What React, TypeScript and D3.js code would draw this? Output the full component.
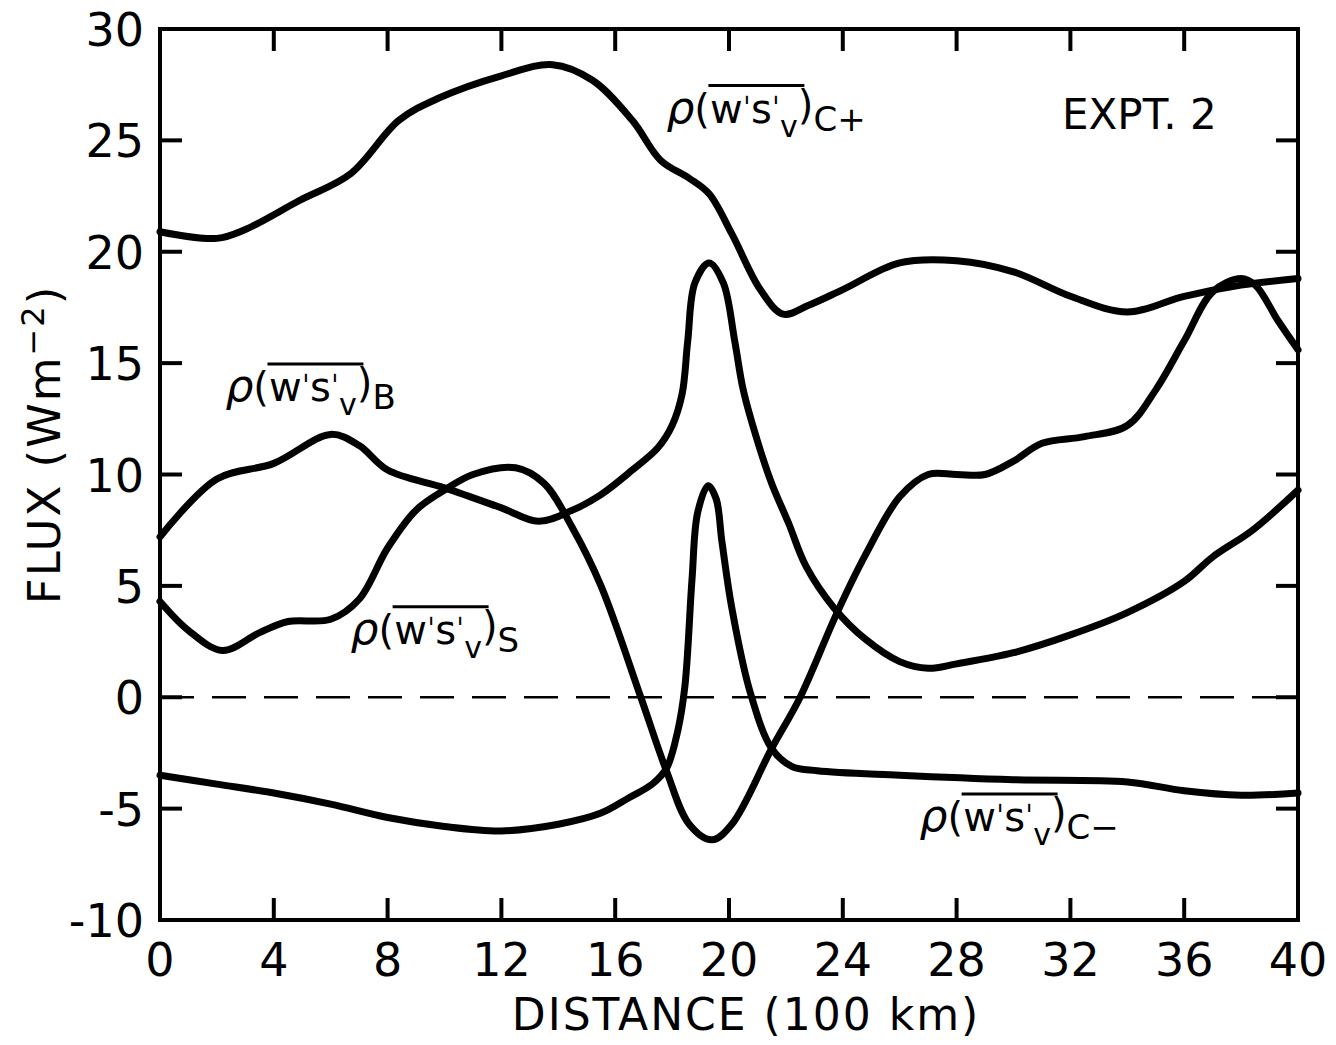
import React from 'react';
import * as d3 from 'd3';

// Distance (100 km) and flux (W m^-2)
const cPlusX = [0, 2, 3, 4.9, 6.7, 8.4, 9.8, 12, 13.8, 15.2, 16.6, 17.6, 18.6, 19.3, 20.1, 21.1, 21.9, 22.8, 24, 26, 28, 30, 32, 34, 36, 38, 40];
const cPlusY = [20.9, 20.6, 21.0, 22.3, 23.5, 25.9, 26.9, 27.9, 28.4, 27.7, 25.9, 24.1, 23.3, 22.6, 20.8, 18.3, 17.2, 17.6, 18.3, 19.5, 19.6, 19.1, 18.0, 17.3, 18.0, 18.5, 18.8];

const bX = [0, 2, 4, 6, 7, 8, 10, 12, 13.3, 14.5, 15.5, 16.6, 17.5, 18.0, 18.35, 18.55, 18.8, 19.3, 19.8, 20.2, 20.5, 21.0, 21.5, 22.1, 22.7, 23.7, 24.8, 26, 27, 28, 30, 32, 34, 36, 37, 38.4, 40];
const bY = [7.2, 9.8, 10.5, 11.8, 11.3, 10.2, 9.4, 8.5, 7.9, 8.4, 9.1, 10.2, 11.2, 12.2, 13.6, 16.0, 18.6, 19.5, 18.6, 16.0, 13.8, 11.5, 9.6, 7.8, 5.9, 4.0, 2.6, 1.6, 1.3, 1.5, 2.0, 2.8, 3.8, 5.2, 6.3, 7.5, 9.3];

const sX = [0, 1, 2.2, 3.5, 4.5, 6, 7, 8, 9, 10, 11, 12.5, 13.5, 14.5, 15.5, 16.9, 17.8, 18.6, 19.4, 20.1, 21.5, 22.5, 23.8, 24.8, 26, 27, 28, 29, 30, 31, 32.5, 34, 35, 36, 37, 38, 38.5, 39.3, 40];
const sY = [4.3, 3.0, 2.1, 2.9, 3.4, 3.5, 4.4, 6.7, 8.4, 9.3, 10.0, 10.3, 9.6, 7.6, 5.0, 0, -3.3, -5.7, -6.4, -5.7, -2.3, 0, 3.8, 6.4, 9.0, 10.0, 10.0, 10.0, 10.6, 11.4, 11.7, 12.2, 13.8, 16.0, 18.2, 18.8, 18.5, 16.9, 15.6];

const cMinusX = [0, 2, 4, 6, 8, 10, 12, 14, 15.5, 16.5, 17.3, 17.8, 18.2, 18.45, 18.7, 18.9, 19.27, 19.55, 19.75, 20.1, 20.75, 21.5, 22.2, 23.1, 26, 30, 34, 36, 38, 40];
const cMinusY = [-3.5, -3.9, -4.3, -4.8, -5.4, -5.8, -6.0, -5.7, -5.2, -4.5, -3.9, -3.2, -1.5, 0.5, 5.3, 8.3, 9.5, 8.9, 7.0, 4.0, 0.2, -2.3, -3.1, -3.3, -3.5, -3.7, -3.8, -4.2, -4.4, -4.3];

const xTicks = [0, 4, 8, 12, 16, 20, 24, 28, 32, 36, 40];
const yTicks = [-10, -5, 0, 5, 10, 15, 20, 25, 30];

const width = 1336;
const height = 1045;
const margin = { top: 29, right: 38, bottom: 125, left: 160 };
const font = '"DejaVu Sans", sans-serif';

const zip = (xs: number[], ys: number[]) => xs.map((x, i) => [x, ys[i]] as [number, number]);
const series = [zip(cPlusX, cPlusY), zip(bX, bY), zip(sX, sY), zip(cMinusX, cMinusY)];

const x = d3.scaleLinear().domain([0, 40]).range([margin.left, width - margin.right]);
const y = d3.scaleLinear().domain([-10, 30]).range([height - margin.bottom, margin.top]);

const line = d3.line<[number, number]>()
  .x(d => x(d[0]))
  .y(d => y(d[1]))
  .curve(d3.curveCatmullRom.alpha(0.5));

// rho(w's'_v) label with an overbar and a subscript
const FluxLabel = ({ px, py, sub }: { px: number; py: number; sub: string }) => (
  <g transform={`translate(${px},${py})`} fontFamily={font} fontSize={40}>
    <text x={0} y={0}>
      <tspan fontStyle="italic" fontSize={44}>ρ</tspan>
      <tspan>(w</tspan>
      <tspan dy={-4} fontSize={30}>ˈ</tspan>
      <tspan dy={4}>s</tspan>
      <tspan dy={-4} fontSize={30}>ˈ</tspan>
      <tspan dy={18} fontSize={30}>v</tspan>
      <tspan dy={-18}>)</tspan>
      <tspan dy={12} fontSize={34}>{sub}</tspan>
    </text>
    <line x1={42} x2={138} y1={-37} y2={-37} stroke="#000" strokeWidth={3} />
  </g>
);

export default function App() {
  const bottom = height - margin.bottom;
  const right = width - margin.right;
  return (
    <svg width={width} height={height} style={{ position: 'absolute', left: 0, top: 0, background: '#fff' }}>
      {/* zero line */}
      <line x1={x(0)} x2={x(40)} y1={y(0)} y2={y(0)} stroke="#000" strokeWidth={2.5} strokeDasharray="34 18" />

      {/* curves */}
      {series.map((s, i) => (
        <path key={i} d={line(s) || ''} fill="none" stroke="#000" strokeWidth={7} strokeLinejoin="round" strokeLinecap="round" />
      ))}

      {/* frame */}
      <rect x={margin.left} y={margin.top} width={right - margin.left} height={bottom - margin.top}
        fill="none" stroke="#000" strokeWidth={4} />

      {/* ticks on all four sides, pointing inward */}
      {xTicks.slice(1, -1).map(t => (
        <g key={'xt' + t}>
          <line x1={x(t)} x2={x(t)} y1={bottom} y2={bottom - 22} stroke="#000" strokeWidth={4} />
          <line x1={x(t)} x2={x(t)} y1={margin.top} y2={margin.top + 22} stroke="#000" strokeWidth={4} />
        </g>
      ))}
      {yTicks.slice(1, -1).map(t => (
        <g key={'yt' + t}>
          <line x1={margin.left} x2={margin.left + 22} y1={y(t)} y2={y(t)} stroke="#000" strokeWidth={4} />
          <line x1={right} x2={right - 22} y1={y(t)} y2={y(t)} stroke="#000" strokeWidth={4} />
        </g>
      ))}

      {/* tick labels */}
      <g fontFamily={font} fontSize={46}>
        {xTicks.map(t => (
          <text key={'xl' + t} x={x(t)} y={bottom + 56} textAnchor="middle">{t}</text>
        ))}
        {yTicks.map(t => (
          <text key={'yl' + t} x={margin.left - 16} y={y(t) + 17} textAnchor="end">{t}</text>
        ))}
      </g>

      {/* axis titles */}
      <text x={(margin.left + right) / 2 + 17} y={1030} textAnchor="middle" fontFamily={font} fontSize={44}
        letterSpacing={2}>
        DISTANCE  (100 km)
      </text>
      <text transform={`translate(60,${(margin.top + bottom) / 2 - 30}) rotate(-90)`} textAnchor="middle"
        fontFamily={font} fontSize={45} letterSpacing={2}>
        FLUX  (Wm<tspan dy={-16} fontSize={32}>−2</tspan><tspan dy={16}>)</tspan>
      </text>

      <text x={1062} y={129} fontFamily={font} fontSize={42}>EXPT. 2</text>

      <FluxLabel px={x(17.8)} py={y(25.8)} sub="C+" />
      <FluxLabel px={x(2.3)} py={y(13.3)} sub="B" />
      <FluxLabel px={x(6.7)} py={y(2.4)} sub="S" />
      <FluxLabel px={x(26.7)} py={y(-6.0)} sub="C−" />
    </svg>
  );
}
